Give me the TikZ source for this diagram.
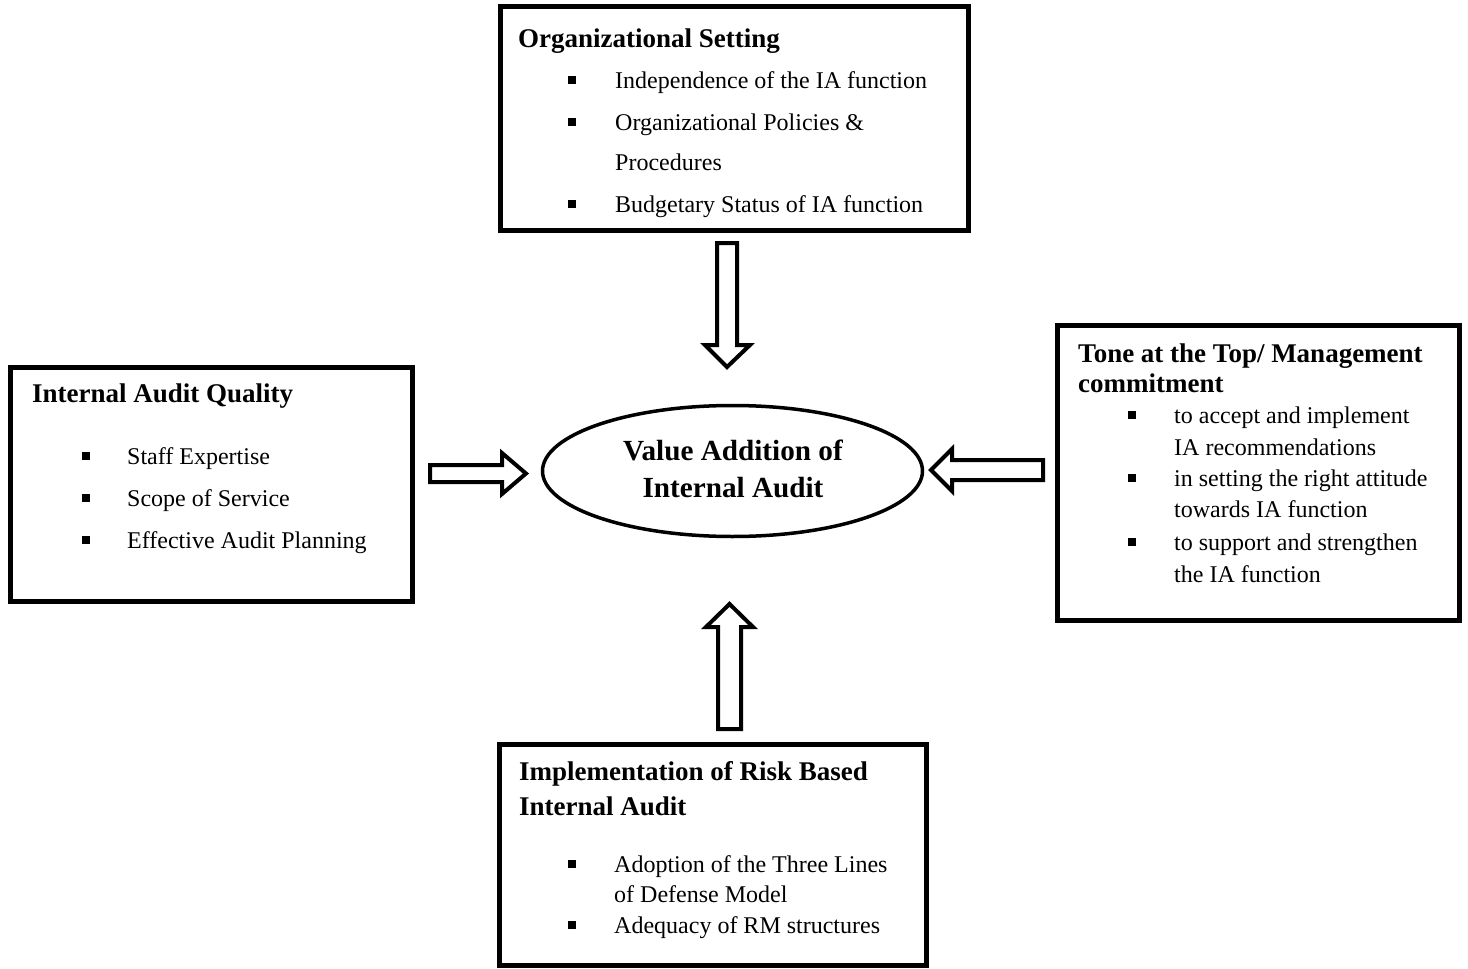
\documentclass[tikz,border=0pt]{standalone}
\usepackage{fontspec}
\setmainfont{Liberation Serif}
\usetikzlibrary{shapes.geometric}
\begin{document}
\begin{tikzpicture}[x=1pt,y=-1pt,
  box/.style={draw, line width=5pt, inner sep=0pt},
  body/.style={font=\fontsize{24}{29}\selectfont, inner sep=0pt, anchor=base west},
  head/.style={font=\bfseries\fontsize{27}{32}\selectfont, inner sep=0pt, anchor=base west},
  ctext/.style={font=\bfseries\fontsize{29.2}{35}\selectfont, inner sep=0pt, anchor=base},
  bul/.style={fill=black, inner sep=0pt, minimum size=8pt},
  blockarrow/.style={draw, line width=4pt, fill=white, line join=miter},
  ell/.style={draw, ellipse, line width=3.5pt, inner sep=0pt}]
\useasboundingbox (0,0) rectangle (1468,969);

% boxes
\node[box, minimum width=468pt, minimum height=224pt] (top) at (734,118) {};
\node[box, minimum width=402pt, minimum height=234pt] (left) at (211,484) {};
\node[box, minimum width=427pt, minimum height=221pt] (bottom) at (712.5,854.5) {};
\node[box, minimum width=402pt, minimum height=295pt] (right) at (1258,472.5) {};

% centre ellipse
\node[ell, minimum width=380pt, minimum height=131pt] (centre) at (732.5,471) {};
\node[ctext] (c1) at (733,460) {Value Addition of};
\node[ctext] (c2) at (733,497) {Internal Audit};

% top box text
\node[head] (th) at (518,47) {Organizational Setting};
\node[bul] (tb1) at (572,80) {};
\node[body] (tt1) at (615,88) {Independence of the IA function};
\node[bul] (tb2) at (572,122) {};
\node[body] (tt2) at (615,130) {Organizational Policies \&};
\node[body] (tt3) at (615,170) {Procedures};
\node[bul] (tb3) at (572,204) {};
\node[body] (tt4) at (615,212) {Budgetary Status of IA function};

% left box text
\node[head] (lh) at (32,402) {Internal Audit Quality};
\node[bul] (lb1) at (85.5,456) {};
\node[body] (lt1) at (127,464) {Staff Expertise};
\node[bul] (lb2) at (85.5,498) {};
\node[body] (lt2) at (127,506) {Scope of Service};
\node[bul] (lb3) at (85.5,540) {};
\node[body] (lt3) at (127,548) {Effective Audit Planning};

% right box text
\node[head] (rh1) at (1078,362) {Tone at the Top/ Management};
\node[head] (rh2) at (1078,392) {commitment};
\node[bul] (rb1) at (1132,415) {};
\node[body] (rt1) at (1174,423) {to accept and implement};
\node[body] (rt2) at (1174,455) {IA recommendations};
\node[bul] (rb2) at (1132,478) {};
\node[body] (rt3) at (1174,486) {in setting the right attitude};
\node[body] (rt4) at (1174,517) {towards IA function};
\node[bul] (rb3) at (1132,542) {};
\node[body] (rt5) at (1174,550) {to support and strengthen};
\node[body] (rt6) at (1174,582) {the IA function};

% bottom box text
\node[head] (bh1) at (519,780) {Implementation of Risk Based};
\node[head] (bh2) at (519,815) {Internal Audit};
\node[bul] (bb1) at (572,864) {};
\node[body] (bt1) at (614,872) {Adoption of the Three Lines};
\node[body] (bt2) at (614,902) {of Defense Model};
\node[bul] (bb2) at (572,925) {};
\node[body] (bt3) at (614,933) {Adequacy of RM structures};

% block arrows
\draw[blockarrow] (717,243) -- (737,243) -- (737,345) -- (750,345) -- (727,367) -- (705,345) -- (717,345) -- cycle;
\draw[blockarrow] (430,465) -- (502,465) -- (502,453) -- (526,473.5) -- (502,494) -- (502,482) -- (430,482) -- cycle;
\draw[blockarrow] (1043,460) -- (952,460) -- (952,449) -- (931,470) -- (952,491) -- (952,480) -- (1043,480) -- cycle;
\draw[blockarrow] (718,729) -- (718,627) -- (706,627) -- (729.5,604) -- (753,627) -- (741,627) -- (741,729) -- cycle;
\end{tikzpicture}
\end{document}
